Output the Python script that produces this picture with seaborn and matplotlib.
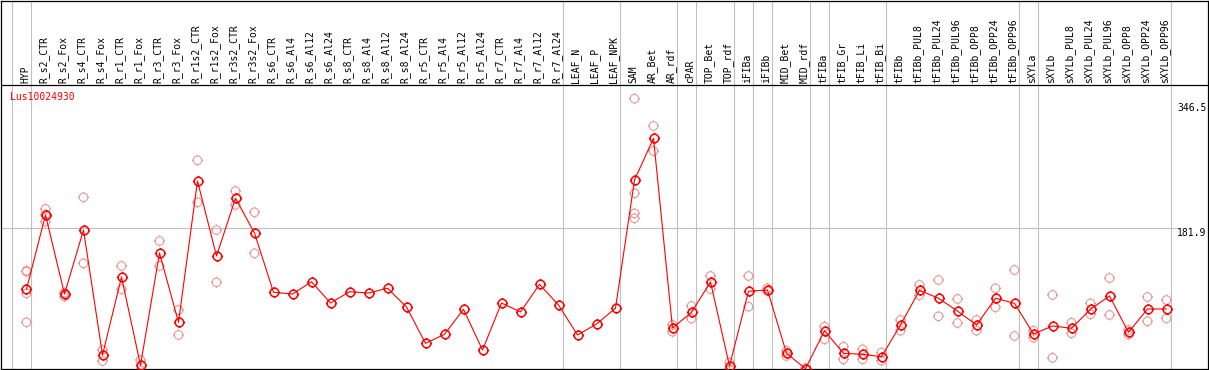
import numpy as np
import pandas as pd
import matplotlib
matplotlib.use("Agg")
import matplotlib.pyplot as plt
from matplotlib.path import Path
import seaborn as sns

GENE = "Lus10024930"

samples = [
    "HYP", "R_s2_CTR", "R_s2_Fox", "R_s4_CTR", "R_s4_Fox", "R_r1_CTR", "R_r1_Fox",
    "R_r3_CTR", "R_r3_Fox", "R_r1s2_CTR", "R_r1s2_Fox", "R_r3s2_CTR", "R_r3s2_Fox",
    "R_s6_CTR", "R_s6_Al4", "R_s6_Al12", "R_s6_Al24", "R_s8_CTR", "R_s8_Al4",
    "R_s8_Al12", "R_s8_Al24", "R_r5_CTR", "R_r5_Al4", "R_r5_Al12", "R_r5_Al24",
    "R_r7_CTR", "R_r7_Al4", "R_r7_Al12", "R_r7_Al24", "LEAF_N", "LEAF_P", "LEAF_NPK",
    "SAM", "AR_Bet", "AR_rdf", "cPAR", "TOP_Bet", "TOP_rdf", "iFIBa", "iFIBb",
    "MID_Bet", "MID_rdf", "tFIBa", "tFIB_Gr", "tFIB_Li", "tFIB_Bi", "tFIBb",
    "tFIBb_PUL8", "tFIBb_PUL24", "tFIBb_PUL96", "tFIBb_OPP8", "tFIBb_OPP24",
    "tFIBb_OPP96", "sXYLa", "sXYLb", "sXYLb_PUL8", "sXYLb_PUL24", "sXYLb_PUL96",
    "sXYLb_OPP8", "sXYLb_OPP24", "sXYLb_OPP96",
]

# number of samples in each tissue group (grey separators between them)
group_sizes = [1, 28, 3, 3, 1, 2, 1, 1, 2, 1, 3, 7, 1, 7]

means = [
    104.4, 198.8, 98.4, 179.7, 21.0, 120.0, 7.9, 150.5, 62.5, 241.9, 146.7, 220.0, 175.9,
    100.6, 98.4, 114.0, 87.0, 101.3, 99.7, 105.7, 81.9, 35.8, 47.2, 79.0, 27.3,
    87.0, 75.6, 110.7, 84.5, 46.4, 60.3, 80.3,
    243.2, 296.2, 55.2, 75.2, 113.7, 7.0, 101.9, 103.5, 23.1, 3.6,
    51.8, 23.1, 21.8, 18.8, 59.1, 103.1, 93.0, 76.8, 59.1, 93.0, 86.6,
    47.6, 57.8, 54.9, 79.0, 95.9, 49.8, 79.4, 79.4,
]

replicates = [
    [128.0, 126.7, 99.3, 62.5], [206.4, 190.2, 199.5], [100.1, 95.0, 98.5],
    [221.2, 137.4], [27.3, 13.3], [134.0, 104.4], [14.6, 1.5], [165.7, 134.0],
    [78.1, 46.4], [268.2, 214.9], [179.7, 113.3], [229.2, 211.5], [202.2, 150.1],
    [], [], [], [], [], [], [], [], [], [], [], [], [], [], [], [], [], [], [],
    [346.5, 226.3, 200.9, 194.6], [311.8, 280.0], [59.1, 50.5], [83.2, 67.1],
    [121.3, 104.8], [11.2, 3.2], [121.3, 82.3], [105.7, 102.2], [26.4, 19.7], [4.5, 2.5],
    [56.9, 40.9], [31.5, 15.5], [28.2, 15.5], [23.9, 13.7], [65.4, 51.8],
    [109.9, 96.8], [116.2, 70.1], [92.1, 61.6], [65.4, 51.8], [105.7, 81.5],
    [128.9, 45.1], [51.8, 42.9], [97.2, 17.5], [62.0, 48.5], [86.6, 72.6],
    [118.7, 71.8], [52.7, 46.7], [94.6, 63.8], [90.8, 67.6],
]

scale_labels = ["346.5", "181.9", "0"]
scale_values = [346.5, 181.9, 0.0]

RED = "#FF0000"
PINK = "#E99A9A"
GREY = "#C0C0C0"

# pixel layout of the original image
W, H = 1209, 370
AX_L, AX_R, AX_T, AX_B = 1, 1207.5, 0.5, 369
X0, DX = 26.5, 19.0          # first column centre, column step
Y0, DY = 371.5, 0.7874       # pixel of value 0, pixels per unit
HEADER = 85


def px_to_y(py):
    return (Y0 - py) / DY


def px_to_x(px):
    return (px - X0) / DX


df_mean = pd.DataFrame({"pos": np.arange(len(samples)), "expr": means})
rows = []
for i, reps in enumerate(replicates):
    for r in reps:
        rows.append({"pos": i, "expr": r})
df_rep = pd.DataFrame(rows)

# round circle (polygon) with little ticks, like the original marker
t = np.linspace(0, 2 * np.pi, 33)
circ = Path(np.column_stack([np.cos(t), np.sin(t)]))
ticks = []
for a in np.deg2rad([0, 90, 180, 270]):
    ticks.append(Path([(np.cos(a), np.sin(a)), (1.3 * np.cos(a), 1.3 * np.sin(a))],
                      [Path.MOVETO, Path.LINETO]))
tick_marker = Path.make_compound_path(circ, *ticks)

sns.set_style("white")
plt.rcParams["font.family"] = ["DejaVu Sans Mono", "DejaVu Sans"]

fig = plt.figure(figsize=(W / 100, H / 100), dpi=100)
ax = fig.add_axes([AX_L / W, 1 - AX_B / H, (AX_R - AX_L) / W, (AX_B - AX_T) / H])
ax.set_xlim(px_to_x(AX_L), px_to_x(AX_R))
ax.set_ylim(px_to_y(AX_B), px_to_y(AX_T))

# group separators
bounds = np.concatenate([[-1], np.cumsum(group_sizes) - 1])
for b in bounds:
    ax.axvline(b + 0.22, color=GREY, lw=0.8, zorder=1)

ax.hlines(181.9, px_to_x(AX_L), px_to_x(1178), color=GREY, lw=0.8, zorder=1)
ax.axhline(px_to_y(HEADER), color="black", lw=0.9, zorder=5)

sns.scatterplot(data=df_rep, x="pos", y="expr", marker=tick_marker, s=64,
                color=PINK, linewidth=0.8, ax=ax, zorder=2, legend=False)
coll = ax.collections[-1]
coll.set_facecolor("none")
coll.set_edgecolor(PINK)

sns.lineplot(data=df_mean, x="pos", y="expr", estimator=None, color=RED, lw=0.8,
             marker=tick_marker, markersize=8, mfc="none", mec=RED, mew=1.1,
             ax=ax, zorder=3)

# sample labels above the header line
for i, name in enumerate(samples):
    ax.text(i - 0.08, px_to_y(83), name, rotation=90, ha="center", va="bottom",
            fontsize=7, color="black")

ax.text(px_to_x(10), px_to_y(97), GENE, color=RED, fontsize=7, ha="left", va="center")

offsets = [-4, 0, 6]
for lab, val, off in zip(scale_labels, scale_values, offsets):
    va = "bottom" if val == 0 else "top"
    ax.annotate(lab, xy=(px_to_x(1177), val), xytext=(0, off), textcoords="offset pixels",
                ha="left", va=va, fontsize=7, color="black")

ax.set_xlabel("")
ax.set_ylabel("")
ax.set_xticks([])
ax.set_yticks([])
for sp in ax.spines.values():
    sp.set_visible(True)
    sp.set_color("black")
    sp.set_linewidth(0.9)

fig.savefig("out.png", dpi=100, facecolor="white")
